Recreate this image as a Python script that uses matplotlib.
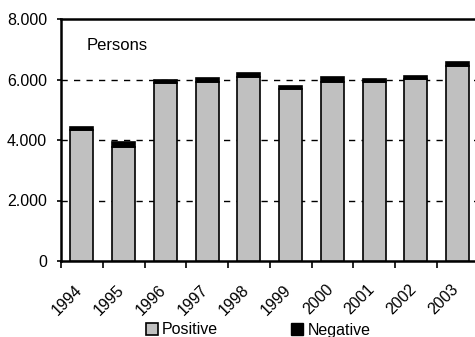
import matplotlib
matplotlib.use("Agg")
import matplotlib.pyplot as plt
import numpy as np
from matplotlib.patches import Patch
from matplotlib.transforms import ScaledTranslation, blended_transform_factory

years = ["1994", "1995", "1996", "1997", "1998", "1999", "2000", "2001", "2002", "2003"]
positive = [4330, 3780, 5895, 5905, 6070, 5675, 5915, 5915, 6015, 6455]
negative = [90, 165, 90, 135, 135, 120, 155, 110, 110, 125]

plt.rcParams['font.family'] = ['Liberation Sans', 'DejaVu Sans']
fig = plt.figure(figsize=(4.75, 3.37), dpi=100)
ax = fig.add_axes([61/475, (337-261)/337, (478.5-61)/475, (261-19)/337])

x = np.arange(len(years)) + 0.5
ax.bar(x, positive, width=0.55, color='#c0c0c0', edgecolor='black', linewidth=1.2, zorder=3)
ax.bar(x, negative, bottom=positive, width=0.55, color='black', edgecolor='black', linewidth=1.2, zorder=3)

ax.set_xlim(0, len(years))
ax.set_ylim(0, 8000)
ax.set_yticks([0, 2000, 4000, 6000, 8000])
ax.set_yticklabels(["0", "2.000", "4.000", "6.000", "8.000"], fontsize=11.5)
ax.set_xticks(np.arange(len(years) + 1))
ax.set_xticklabels([])
ax.tick_params(axis='x', which='major', length=5, width=1.2, direction='out')
ax.tick_params(axis='y', length=3, width=1.2, direction='out', pad=7)

# rotated category labels centred under each bar
lbl_tr = blended_transform_factory(ax.transData, ax.transAxes) + \
    ScaledTranslation(-0.07, -0.21, fig.dpi_scale_trans)
for xi, yr in zip(x, years):
    ax.text(xi, 0, yr, transform=lbl_tr, rotation=45, ha='right', va='top',
            rotation_mode='anchor', fontsize=11.5, clip_on=False)

for y in [2000, 4000, 6000]:
    ax.axhline(y, color='black', linestyle=(0, (4.5, 4.5)), linewidth=1.0, zorder=1)

for s in ['left', 'bottom', 'top']:
    ax.spines[s].set_linewidth(1.8)
    ax.spines[s].set_color('black')
ax.spines['right'].set_visible(False)

fig.text(87/475, 1 - 50/337, "Persons", fontsize=12, ha='left', va='baseline')

handles = [Patch(facecolor='#c0c0c0', edgecolor='black', linewidth=1.2, label='Positive'),
           Patch(facecolor='black', edgecolor='black', label='Negative')]
fig.legend(handles=handles, loc='center', bbox_to_anchor=(258/475, 1 - 330/337), ncol=2,
           frameon=False, fontsize=11.5, handlelength=0.75, handleheight=0.75,
           handletextpad=0.25, columnspacing=4.6, borderpad=0)

fig.savefig("out.png", dpi=100)
